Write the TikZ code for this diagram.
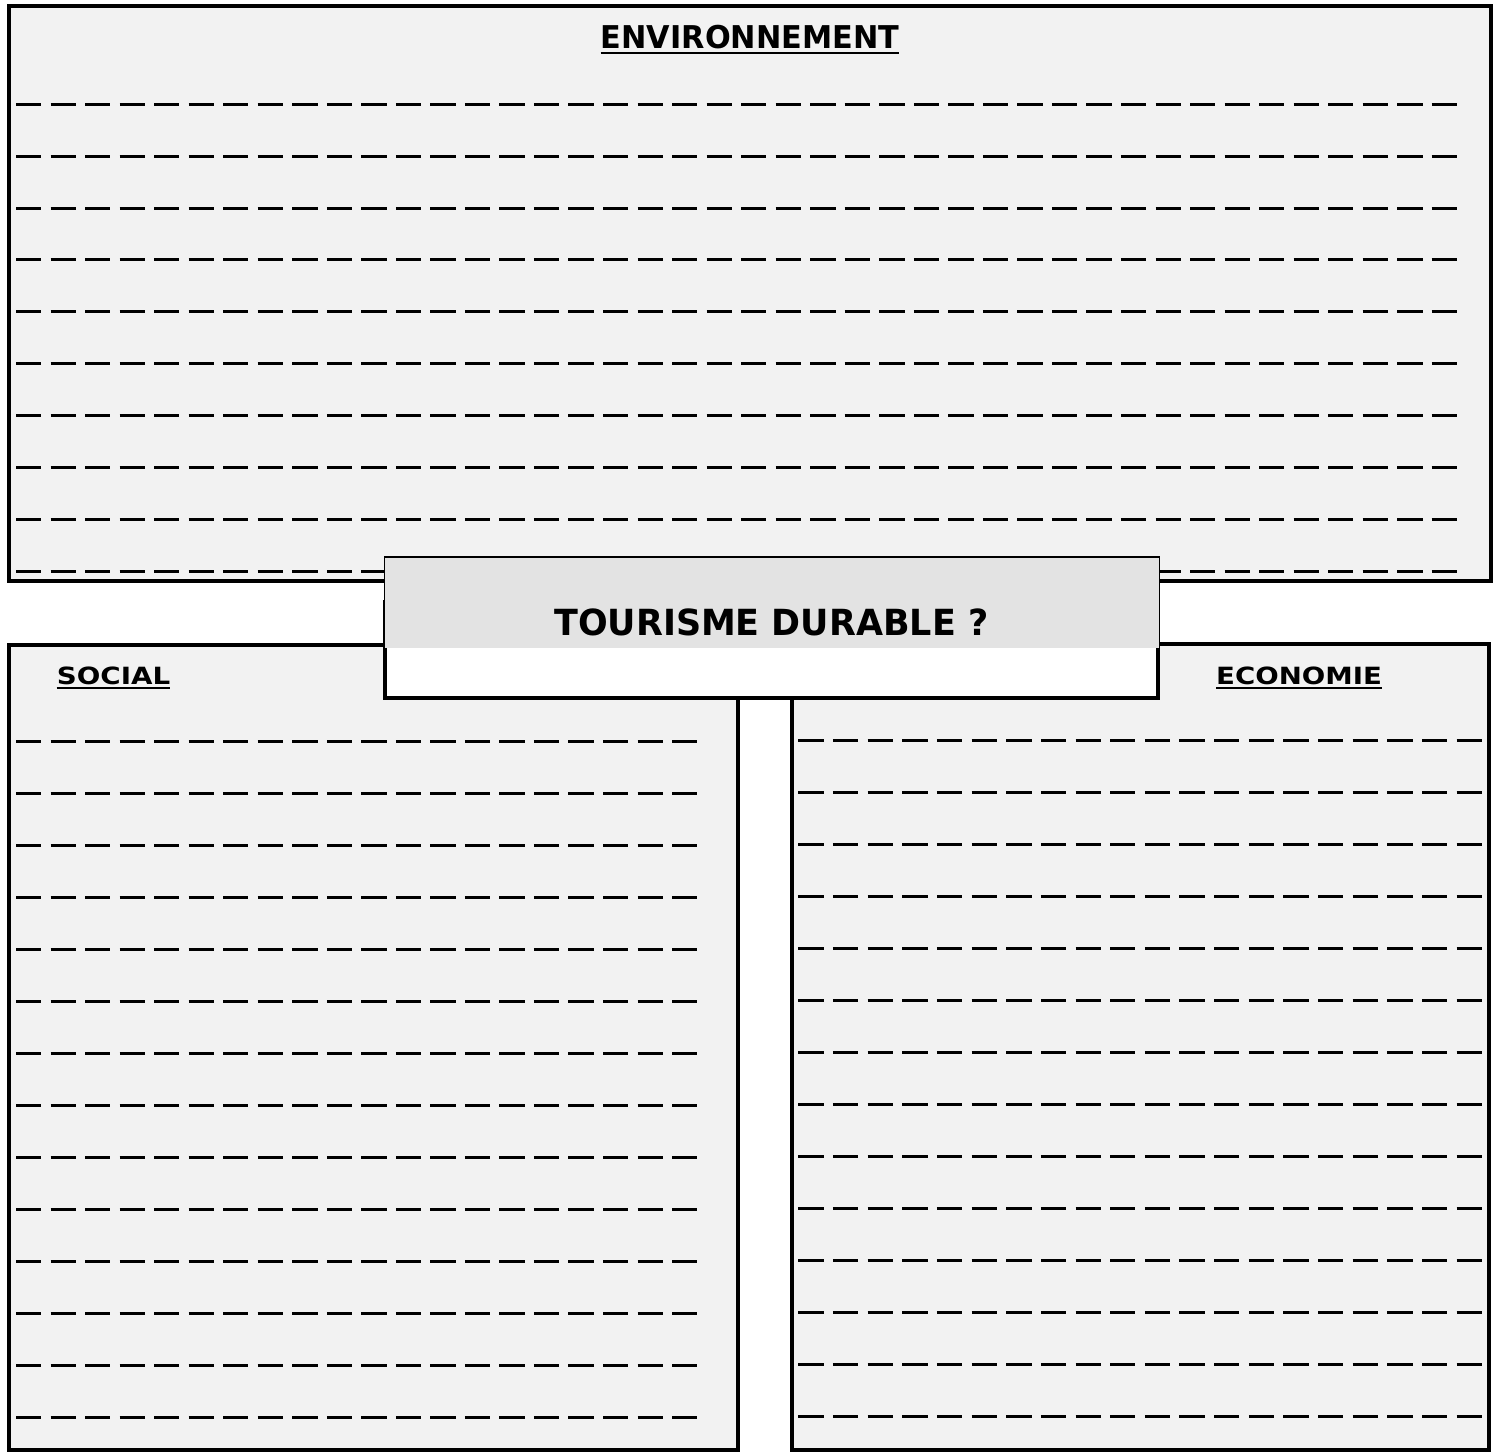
\documentclass[tikz,border=0pt]{standalone}
\usepackage{fontspec}
\usepackage{graphicx}
\setmainfont{DejaVu Sans}
\definecolor{panelfill}{HTML}{F2F2F2}
\definecolor{titlegray}{HTML}{E3E3E3}
\tikzset{
  panelbox/.style={fill=panelfill, draw=black, line width=4pt},
  ruled/.style={line width=3pt, dash pattern=on 25.3pt off 9.23pt},
  ruledeco/.style={line width=3pt, dash pattern=on 25.3pt off 9.35pt},
  headtext/.style={inner sep=0pt, anchor=base west, font=\bfseries},
  underl/.style={line width=2pt}
}
\begin{document}
\begin{tikzpicture}[x=1pt,y=-1pt]
\useasboundingbox (0,0) rectangle (1501,1452);
\fill[white] (0,0) rectangle (1501,1452);

% Environnement panel
\draw[panelbox] (9,6) rectangle (1491,581);
\foreach \y in {104,156,208,259,311,363,415,467,519,571}
  \draw[ruled] (16,\y.5) -- (1457,\y.5);

% Social panel
\draw[panelbox] (9,645) rectangle (737.5,1449.5);
\foreach \k in {0,...,13}
  \draw[ruled] (16,{741.5+52*\k}) -- (697,{741.5+52*\k});

% Economie panel
\draw[panelbox] (791.7,644) rectangle (1489,1449.5);
\foreach \k in {0,...,13}
  \draw[ruledeco] (798.3,{740.5+52*\k}) -- (1482,{740.5+52*\k});

% Title box
\fill[white] (385,600) rectangle (1158,698);
\draw[line width=4pt] (385.3,600) -- (385.3,698) -- (1158,698) -- (1158,600);
\fill[titlegray] (384.3,557) rectangle (1159.5,648);
\draw[line width=1.5pt] (384.3,648) -- (384.3,557) -- (1159.5,557) -- (1159.5,648);

% Labels
\node[headtext] (env) at (600.7,48.3) {\resizebox{298.3pt}{23.3pt}{ENVIRONNEMENT}};
\draw[underl] ([yshift=-4.4pt]env.base west) -- ([yshift=-4.4pt]env.base east);

\node[headtext] (soc) at (56.7,684.3) {\resizebox{113.3pt}{17.6pt}{SOCIAL}};
\draw[underl] ([yshift=-3.4pt]soc.base west) -- ([yshift=-3.4pt]soc.base east);

\node[headtext] (eco) at (1216,684.3) {\resizebox{165.7pt}{17.6pt}{ECONOMIE}};
\draw[underl] ([yshift=-3.7pt]eco.base west) -- ([yshift=-3.7pt]eco.base east);

\node[headtext] (title) at (554,635) {\resizebox{434.3pt}{26.7pt}{TOURISME DURABLE ?}};
\end{tikzpicture}
\end{document}
